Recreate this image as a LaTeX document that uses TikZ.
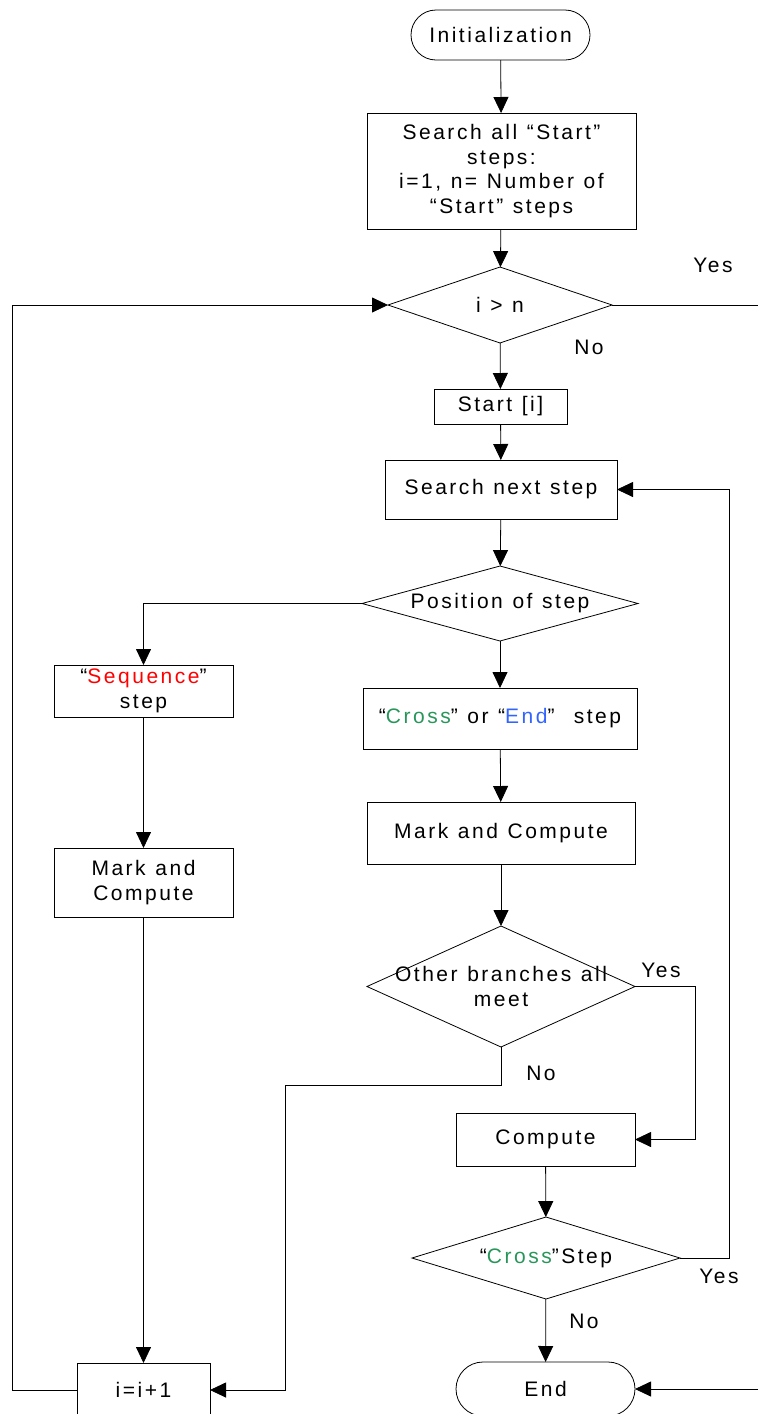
\documentclass[tikz,border=0pt]{standalone}
\usepackage{fontspec}
\setmainfont{Liberation Sans}[LetterSpace=12,WordSpace=1.15]
\usetikzlibrary{arrows.meta,shapes.geometric,shapes.misc}
\definecolor{seqred}{RGB}{255,0,0}
\definecolor{crossgreen}{RGB}{40,150,90}
\definecolor{endblue}{RGB}{50,100,255}
\begin{document}
\begin{tikzpicture}[x=1pt,y=-1pt,
  line width=0.8pt,
  every node/.style={font=\fontsize{21}{24.5}\selectfont, inner sep=0pt, outer sep=0pt},
  procbox/.style={draw, rectangle, align=center},
  termbox/.style={draw, rounded rectangle, align=center},
  decbox/.style={draw, diamond},
  dectext/.style={font=\fontsize{21}{24.5}\selectfont, align=center},
  flow/.style={-{Triangle[length=16pt,width=15pt]}},
  lbl/.style={font=\fontsize{21}{24.5}\selectfont}
]
\useasboundingbox (0,0) rectangle (758,1414);

% main column
\node[termbox, minimum width=179pt, minimum height=50pt] (init) at (500.5,35) {Initialization};
\node[procbox, minimum width=269pt, minimum height=116pt] (search) at (501.5,171)
  {Search all “Start”\\steps:\\i=1, n= Number of\\“Start” steps};
\node[decbox, minimum width=224pt, minimum height=76pt,
  label={[dectext]center:i > n}] (cmp) at (500,305) {};
\node[procbox, minimum width=133pt, minimum height=35pt] (start) at (500.5,406.5) {Start [i]};
\node[procbox, minimum width=232pt, minimum height=59pt] (next) at (501,489.5) {Search next step};
\node[decbox, minimum width=276pt, minimum height=75pt,
  label={[dectext]center:Position of step}] (pos) at (500,603.5) {};
\node[procbox, minimum width=274pt, minimum height=61pt] (cross) at (500,718.5)
  {“\textcolor{crossgreen}{Cross}” or “\textcolor{endblue}{End}”\ \ step};
\node[procbox, minimum width=268pt, minimum height=62pt] (markr) at (501,833) {Mark and Compute};
\node[decbox, minimum width=268pt, minimum height=121pt,
  label={[dectext]center:{Other branches all\\meet}}] (meet) at (501,986.5) {};
\node[procbox, minimum width=179pt, minimum height=53pt] (comp) at (545.5,1139.5) {Compute};
\node[decbox, minimum width=268pt, minimum height=82pt,
  label={[dectext]center:{“\textcolor{crossgreen}{Cross}”Step}}] (crossq) at (546,1258) {};
\node[termbox, minimum width=179pt, minimum height=54pt] (end) at (545.5,1389) {End};

% left column
\node[procbox, minimum width=179pt, minimum height=52pt] (seq) at (143.5,691)
  {“\textcolor{seqred}{Sequence}”\\step};
\node[procbox, minimum width=179pt, minimum height=69pt] (markl) at (143.5,882.5) {Mark and\\Compute};
\node[procbox, minimum width=133pt, minimum height=54pt] (inc) at (143.5,1390) {i=i+1};

% free ends at the right border
\coordinate (yesout) at (758,305);
\coordinate (endin) at (758,1389);

% branch labels
\node[lbl] (yes1) at (713,265) {Yes};
\node[lbl] (no1) at (589,347) {No};
\node[lbl] (yes2) at (661,970) {Yes};
\node[lbl] (no2) at (541,1073) {No};
\node[lbl] (yes3) at (719,1276) {Yes};
\node[lbl] (no3) at (584,1321) {No};

% connectors
\draw[flow] (init) -- (search);
\draw[flow] (search) -- (cmp);
\draw (cmp.east) -- (yesout);
\draw[flow] (cmp) -- (start);
\draw[flow] (start) -- (next);
\draw[flow] (next) -- (pos);
\draw[flow] (pos.west) -| (seq.north);
\draw[flow] (pos) -- (cross);
\draw[flow] (cross) -- (markr);
\draw[flow] (markr) -- (meet);
\draw[flow] (meet.east) -- (695,986.5) |- (comp.east);
\draw[flow] (meet.south) -- (501,1085) -- (285,1085) |- (inc.east);
\draw[flow] (comp) -- (crossq);
\draw[flow] (crossq.east) -- (729,1258) |- (next.east);
\draw[flow] (crossq) -- (end);
\draw[flow] (endin) -- (end.east);
\draw[flow] (seq) -- (markl);
\draw[flow] (markl) -- (inc);
\draw[flow] (inc.west) -- (12,1390) |- (cmp.west);
\end{tikzpicture}
\end{document}
